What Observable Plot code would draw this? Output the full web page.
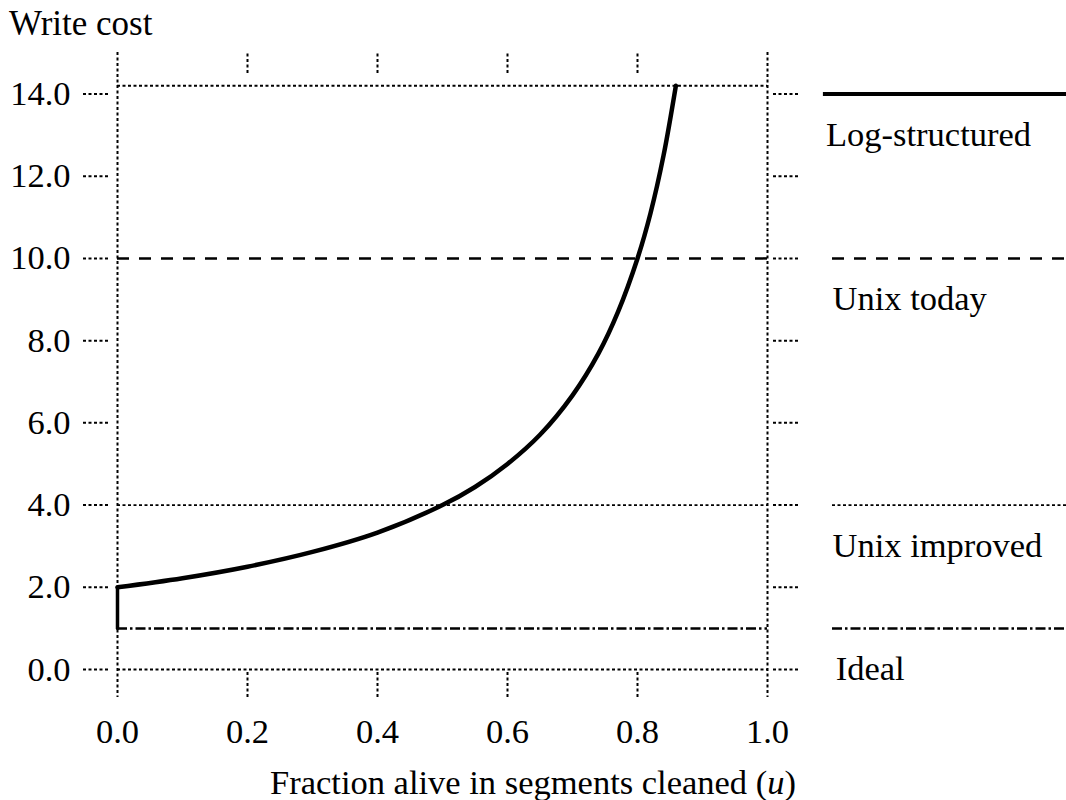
<!DOCTYPE html>
<html>
<head>
<meta charset="utf-8">
<script src="https://cdn.jsdelivr.net/npm/d3@7"></script>
<script src="https://cdn.jsdelivr.net/npm/@observablehq/plot@0.6"></script>
<style>
  html, body { margin: 0; padding: 0; background: white; }
  #wrap { position: relative; width: 1066px; height: 800px; font-family: "Liberation Serif", "Times New Roman", serif; color: black; }
  #chart { position: absolute; left: 0; top: 0; }
  #ytitle { position: absolute; left: 9px; top: 4px; font-size: 35px; line-height: 40px; }
  #xtitle { position: absolute; left: 0; top: 762px; width: 1066px; text-align: center; font-size: 34.5px; line-height: 40px; }
</style>
</head>
<body>
<div id="wrap">
  <div id="chart"></div>
  <div id="ytitle">Write cost</div>
  <div id="xtitle">Fraction alive in segments cleaned (<i>u</i>)</div>
</div>
<script>
// ---- data ----
const logU    = [0,   0,   0.1,  0.2, 0.3,  0.4,  0.5, 0.55, 0.6, 0.65, 0.7,  0.74, 0.77, 0.8,  0.82, 0.84, 0.859];
const logCost = [1.0, 2.0, 2.22, 2.5, 2.86, 3.33, 4.0, 4.44, 5.0, 5.71, 6.67, 7.69, 8.7,  10.0, 11.1, 12.5, 14.2];
const unixToday = 10.0;
const unixImproved = 4.0;
const ideal = 1.0;
const legendLabels = ["Log-structured", "Unix today", "Unix improved", "Ideal"];
const legendLevels = [14.0, unixToday, unixImproved, ideal];
const yTicks = [0, 2, 4, 6, 8, 10, 12, 14];
const xTicks = [0, 0.2, 0.4, 0.6, 0.8, 1.0];
const xInnerTicks = [0.2, 0.4, 0.6, 0.8];

// ---- build tables ----
const logData = logU.map((u, i) => ({u, cost: logCost[i]}));
const frameTop = d3.max(logCost);

const dot = {strokeDasharray: "3,2.5", strokeWidth: 2};
const styles = [
  {strokeWidth: 4},
  {strokeWidth: 2.5, strokeDasharray: "12,10"},
  {strokeWidth: 1.8, strokeDasharray: "3,2.5"},
  {strokeWidth: 2.5, strokeDasharray: "10,3,2.5,3"}
];
const legendX1 = 1.1, legendX2 = 1.46;
const legendTextX = [1.09, 1.1, 1.1, 1.105];

const lines = [
  {value: unixToday, style: styles[1]},
  {value: unixImproved, style: styles[2]},
  {value: ideal, style: styles[3]}
];

const marks = [
  // frame
  Plot.ruleX([0, 1], {...dot, stroke: "black"}),
  Plot.ruleY([0, frameTop], {x1: 0, x2: 1, ...dot, stroke: "black"}),
  // axes
  Plot.axisY(yTicks, {anchor: "left", tickSize: 25, tickPadding: 13, tickFormat: d3.format(".1f"),
    fontSize: 34.5, label: null, ...dot}),
  Plot.axisY(yTicks, {anchor: "right", tickSize: 25, tickFormat: () => "", label: null, ...dot}),
  Plot.axisX(xInnerTicks, {anchor: "top", tickSize: 20, insetTop: 20, tickFormat: () => "", label: null, ...dot}),
  Plot.axisX(xInnerTicks, {anchor: "bottom", tickSize: 25, insetBottom: 25, tickFormat: () => "", label: null, ...dot}),
  Plot.axisX(xTicks, {anchor: "bottom", tickSize: 0, tickPadding: 21, tickFormat: d3.format(".1f"),
    fontSize: 34.5, label: null}),
  // horizontal reference series
  ...lines.map(l => Plot.ruleY([l.value], {x1: 0, x2: 1, stroke: "black", ...l.style})),
  // log-structured curve
  Plot.line(logData.slice(0, 2), {x: "u", y: "cost", stroke: "black", strokeWidth: 3.5}),
  Plot.line(logData.slice(1), {x: "u", y: "cost", stroke: "black", strokeWidth: 4.5, curve: "catmull-rom"}),
  // legend
  ...legendLevels.map((v, i) => Plot.ruleY([v], {x1: i === 0 ? 1.086 : legendX1, x2: legendX2, stroke: "black", ...styles[i]})),
  Plot.text(legendLabels.map((t, i) => ({t, v: legendLevels[i], x: legendTextX[i]})), {
    x: "x", y: "v", text: "t", dy: 41, textAnchor: "start", fontSize: 34.5, fill: "black"
  })
];

const chart = Plot.plot({
  width: 1066,
  height: 760,
  marginLeft: 108,
  marginRight: 294,
  marginTop: 52,
  marginBottom: 63,
  x: {domain: [0, 1], range: [117, 767], axis: null},
  y: {domain: [0, 14], range: [669, 93.5], axis: null},
  style: {fontFamily: "'Liberation Serif', 'Times New Roman', serif", fontSize: "34px", color: "black", background: "white", overflow: "visible"},
  marks
});
document.getElementById("chart").appendChild(chart);
</script>
</body>
</html>
